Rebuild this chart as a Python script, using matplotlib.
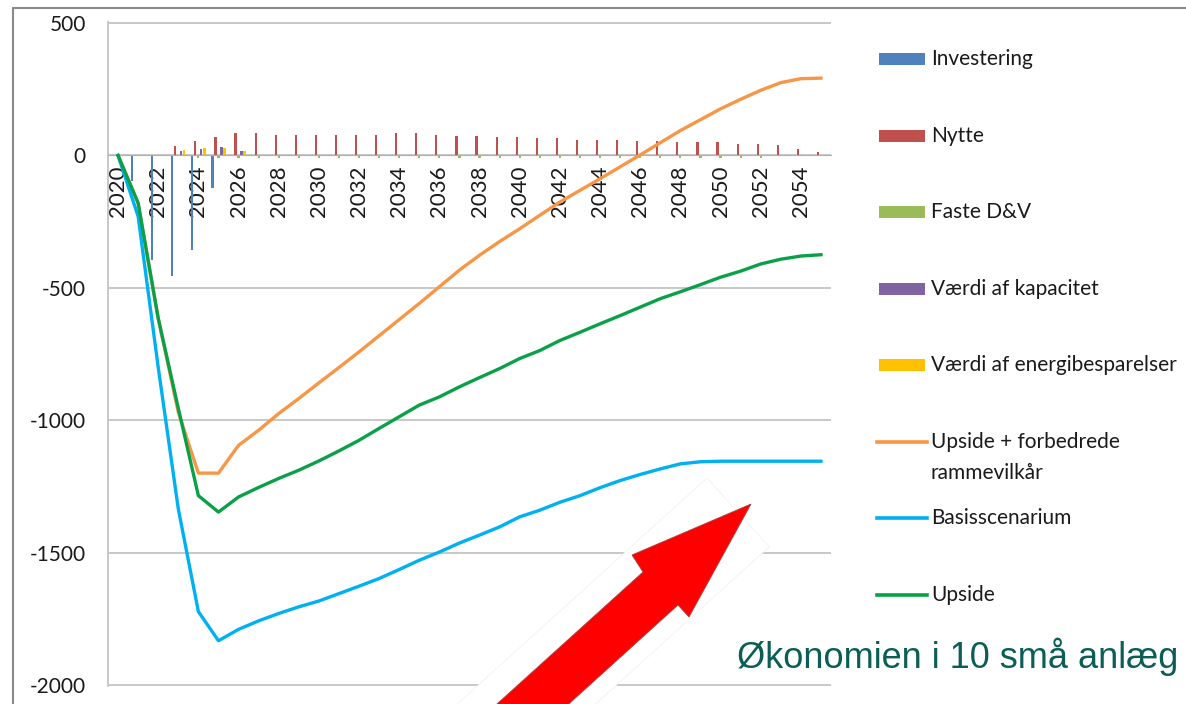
import matplotlib
matplotlib.use("Agg")
import matplotlib.pyplot as plt
from matplotlib.patches import Polygon, Rectangle
from matplotlib.lines import Line2D
import numpy as np

# --- data ---
YEARS = list(range(2020, 2056))

INVESTERING = [0, -95, -395, -455, -357, -124, 0, 0, 0, 0, 0, 0, 0, 0, 0, 0, 0, 0,
               0, 0, 0, 0, 0, 0, 0, 0, 0, 0, 0, 0, 0, 0, 0, 0, 0, 0]
NYTTE = [0, 0, 0, 35, 56, 71, 84, 84, 79, 79, 79, 76, 78, 76, 83, 83, 78, 73,
         73, 69, 69, 64, 64, 58, 60, 60, 54, 54, 50, 50, 50, 45, 45, 38, 23, 12]
FASTE_DV = [0, 0, 0, 0, -8, -8, -8, -8, -8, -8, -8, -8, -8, -8, -8, -8, -8, -8,
            -8, -8, -8, -8, -8, -8, -8, -8, -8, -8, -8, -8, -8, -8, -8, 0, 0, 0]
KAPACITET = [0, 0, 0, 16, 26, 30, 16, 0, 0, 0, 0, 0, 0, 0, 0, 0, 0, 0,
             0, 0, 0, 0, 0, 0, 0, 0, 0, 0, 0, 0, 0, 0, 0, 0, 0, 0]
ENERGI = [0, 0, 0, 19, 29, 29, 16, 0, 0, 0, 0, 0, 0, 0, 0, 0, 0, 0,
          0, 0, 0, 0, 0, 0, 0, 0, 0, 0, 0, 0, 0, 0, 0, 0, 0, 0]

UPSIDE_PLUS = [0, -180, -615, -970, -1200, -1200, -1095, -1038, -975, -918, -859, -801,
               -742, -681, -620, -559, -496, -433, -377, -325, -277, -226, -176, -132,
               -88, -43, 2, 48, 94, 135, 176, 212, 246, 275, 290, 292]
BASIS = [0, -230, -800, -1335, -1723, -1833, -1790, -1758, -1730, -1705, -1683, -1655,
         -1627, -1598, -1564, -1529, -1498, -1464, -1434, -1403, -1365, -1340, -1310, -1285,
         -1255, -1228, -1205, -1184, -1165, -1157, -1155, -1155, -1155, -1155, -1155, -1155]
UPSIDE = [0, -180, -615, -955, -1285, -1347, -1290, -1254, -1220, -1189, -1154, -1116,
          -1076, -1031, -987, -943, -912, -874, -839, -805, -767, -737, -699, -668,
          -636, -605, -573, -541, -515, -488, -460, -437, -410, -392, -380, -375]

BAR_SERIES = [
    ("Investering", INVESTERING, "#4F81BD"),
    ("Nytte", NYTTE, "#C0504D"),
    ("Faste D&V", FASTE_DV, "#9BBB59"),
    ("Værdi af kapacitet", KAPACITET, "#8064A2"),
    ("Værdi af energibesparelser", ENERGI, "#FFC000"),
]
LINE_SERIES = [
    ("Upside + forbedrede\nrammevilkår", UPSIDE_PLUS, "#F79646"),
    ("Basisscenarium", BASIS, "#00B0F0"),
    ("Upside", UPSIDE, "#0AA048"),
]

W, H = 1186, 704


def fx(x):
    return x / W


def fy(y):
    return 1 - y / H


plt.rcParams["font.family"] = ["Lato", "DejaVu Sans"]

fig = plt.figure(figsize=(W / 100, H / 100), dpi=100)
ax = fig.add_axes([fx(108), fy(686), (831 - 108) / W, (686 - 22) / H])

# category axis crosses at 0, as in Excel (set before tick styling: it resets ticks)
for s in ("top", "right"):
    ax.spines[s].set_visible(False)
ax.spines["bottom"].set_position(("data", 0))
ax.spines["bottom"].set_color("#b0b0b0")
ax.spines["left"].set_color("#c4c4c4")
ax.spines["left"].set_linewidth(1.3)

idx = np.arange(len(YEARS))
bw, step = 0.11, 0.15
for k, (name, vals, color) in enumerate(BAR_SERIES):
    ax.bar(idx + (k - 2) * step, vals, width=bw, color=color, zorder=2)

for name, vals, color in LINE_SERIES:
    ax.plot(idx, vals, color=color, lw=2.4, zorder=3, solid_joinstyle="round")

ax.set_xlim(-0.5, len(YEARS) - 0.5)
ax.set_ylim(-2004, 504)
ax.set_yticks([500, 0, -500, -1000, -1500, -2000])
ax.set_yticklabels(["500", "0", "-500", "-1000", "-1500", "-2000"])
ax.set_xticks(idx[::2])
ax.set_xticklabels([str(y) for y in YEARS[::2]])
ax.tick_params(axis="y", length=0, pad=16, labelsize=15, labelcolor="#1a1a1a")
ax.tick_params(axis="x", length=0, pad=7, labelsize=16, labelcolor="#1a1a1a",
               labelrotation=90)
ax.grid(axis="y", color="#c4c4c4", lw=1.3, zorder=0)
ax.set_axisbelow(True)

# outer chart frame
fig.add_artist(Rectangle((fx(13), fy(720)), 1200 / W, 712 / H, transform=fig.transFigure,
                         fill=False, ec="#8a8a8a", lw=1.5))

# legend, laid out like the Excel original
leg_y = [59, 136, 212, 289, 365, 442, 518, 595]
entries = [(n, c, "bar") for n, _, c in BAR_SERIES] + [(n, c, "line") for n, _, c in LINE_SERIES]
for (name, color, kind), y in zip(entries, leg_y):
    if kind == "bar":
        fig.add_artist(Rectangle((fx(879), fy(y + 6)), 46 / W, 12 / H,
                                 transform=fig.transFigure, fc=color, ec="none"))
    else:
        fig.add_artist(Line2D([fx(877), fx(927)], [fy(y), fy(y)],
                              transform=fig.transFigure, color=color, lw=2.6))
    for j, line in enumerate(name.split("\n")):
        fig.text(fx(931), fy(y + 31 * j), line, fontsize=15, color="#1a1a1a",
                 ha="left", va="center")

# red arrow on a white rotated card
card = [(707, 478), (769.3, 546.8), (473, 815), (411, 746)]
fig.add_artist(Polygon([(fx(x), fy(y)) for x, y in card], closed=True,
                       transform=fig.transFigure, fc="white", ec="#f2f2f2", lw=0.6))
arrow = [(751, 504), (689, 617), (678, 605), (507, 760), (435, 760), (643, 572), (632, 555)]
fig.add_artist(Polygon([(fx(x), fy(y)) for x, y in arrow], closed=True,
                       transform=fig.transFigure, fc="#ff0000", ec="#a04848", lw=0.6))

fig.text(fx(737), fy(657), "Økonomien i 10 små anlæg", fontsize=26,
         family="Liberation Sans", color="#0b5e55", ha="left", va="center")

fig.savefig("out.png", dpi=100)
